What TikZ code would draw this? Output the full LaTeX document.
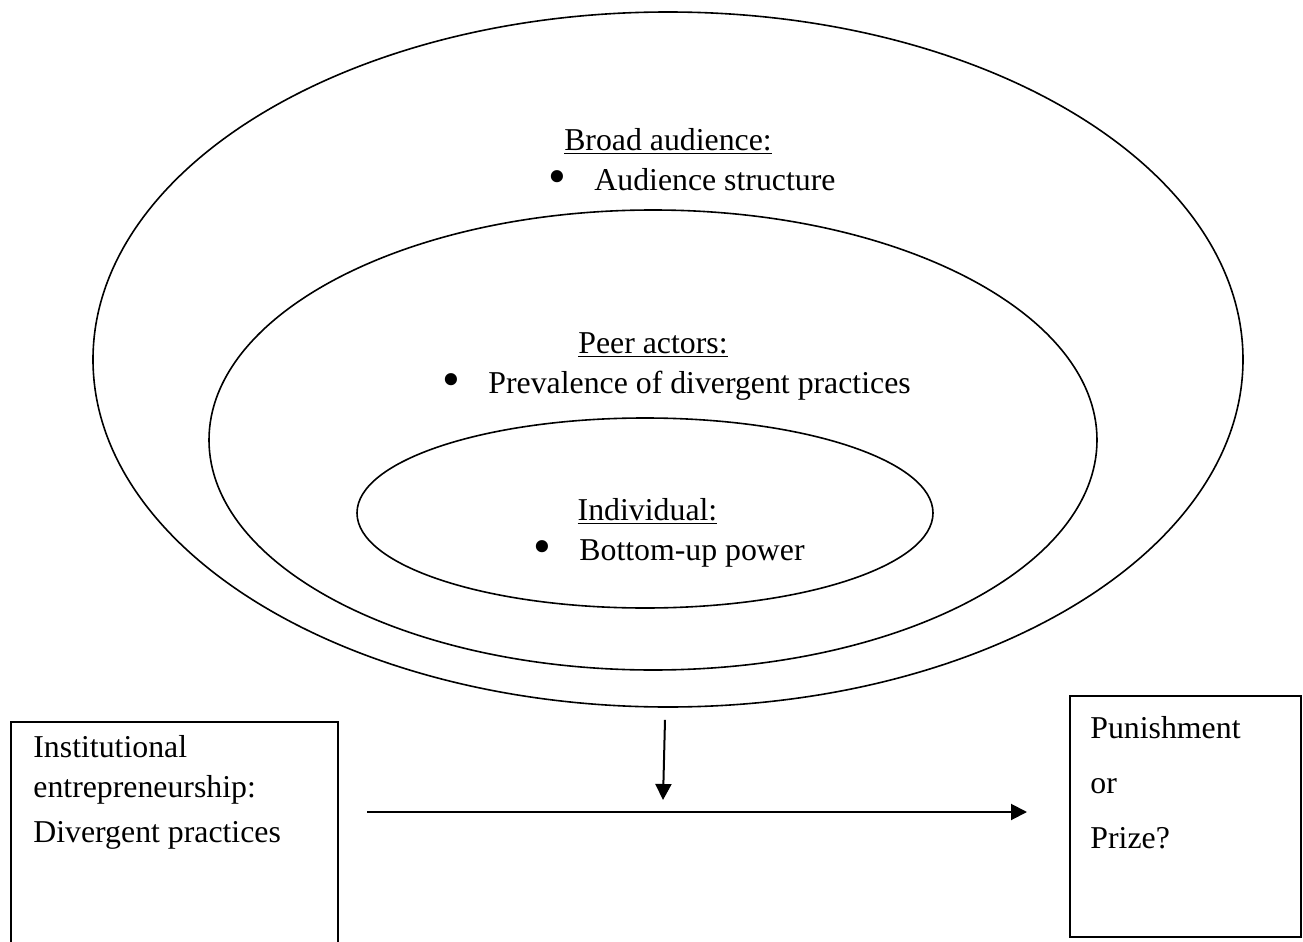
\documentclass[tikz,border=0pt]{standalone}
\usepackage{fontspec}
\setmainfont{Liberation Serif}
\usetikzlibrary{arrows.meta,positioning,shapes.geometric}
\tikzset{
  ring/.style={ellipse, draw=black, line width=0.8pt, inner sep=0pt},
  ringhead/.style={font=\fontsize{15.9}{19}\selectfont, inner sep=0pt, anchor=base},
  ringitem/.style={font=\fontsize{15.9}{19}\selectfont, inner sep=0pt, anchor=base west},
  sidebox/.style={rectangle, draw=black, line width=1pt, inner sep=0pt, anchor=north west},
  sidetext/.style={align=left, inner sep=0pt, anchor=north west},
  linkarrow/.style={-{Triangle[length=8pt,width=8pt]}, line width=1pt}
}
\newcommand{\ringbullet}{\makebox[23pt][l]{\raisebox{-1.6pt}{\scalebox{1.6}{\textbullet}}}}

\begin{document}
\begin{tikzpicture}[x=0.5pt,y=-0.5pt]
\useasboundingbox (0,0) rectangle (1303,942);
\clip (0,0) rectangle (1303,942);
% nested audiences
\node[ring, minimum width=575pt, minimum height=347.5pt] (broad) at (668,359.5) {};
\node[ring, minimum width=444pt, minimum height=230pt] (peer) at (653,440) {};
\node[ring, minimum width=288pt, minimum height=95pt] (indiv) at (645,513) {};
\node[ringhead] (broadhead) at (668,150) {\underline{Broad audience:}};
\node[ringitem] (broaditem) at (548,190) {\ringbullet Audience structure};
\node[ringhead] (peerhead) at (653,353) {\underline{Peer actors:}};
\node[ringitem] (peeritem) at (442,393) {\ringbullet Prevalence of divergent practices};
\node[ringhead] (indivhead) at (647.5,520) {\underline{Individual:}};
\node[ringitem] (indivitem) at (533,560) {\ringbullet Bottom-up power};
% side boxes
\node[sidebox, minimum width=163.5pt, minimum height=130pt] (entre) at (10,721) {};
\node[sidetext, font=\fontsize{15.9}{20}\selectfont] (entretext) at (33,735)
  {Institutional\\entrepreneurship:\\[2.5pt]Divergent practices};
\node[sidebox, minimum width=115.5pt, minimum height=120.5pt] (outcome) at (1069,695) {};
\node[sidetext, font=\fontsize{15.9}{27.5}\selectfont] (outcometext) at (1090,716)
  {Punishment\\or\\Prize?};
% arrows
\coordinate (flowstart) at (367,812);
\coordinate (flowend) at (1027,812);
\coordinate (modtip) at (663,800);
\draw[linkarrow] (flowstart) -- (flowend);
\draw[linkarrow] ([xshift=-1.5pt,yshift=-6pt]broad.south) -- (modtip);
\end{tikzpicture}
\end{document}
